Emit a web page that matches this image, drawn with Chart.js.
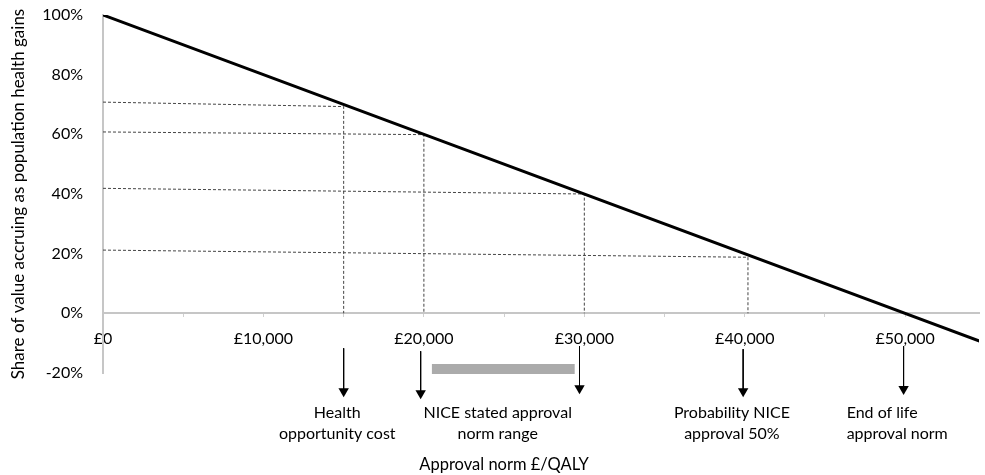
<!DOCTYPE html>
<html><head><meta charset="utf-8">
<script src="https://cdn.jsdelivr.net/npm/chart.js@4/dist/chart.umd.min.js"></script>
<style>html,body{margin:0;padding:0;background:#fff}#wrap{width:985px;height:475px}</style>
</head><body><div id="wrap"><canvas id="c" width="985" height="475"></canvas></div>
<script>
// Main relationship: share of value accruing as health gains vs approval norm
const normX = [0, 55000];
const shareY = [100, -10];
// Dashed guide lines (left end value, right end value, x where they drop to axis)
const guideX = [15000, 20000, 30000, 40200];
const guideLeftY = [70.8, 60.8, 41.9, 21.2];
const guideRightY = [69.3, 59.9, 40.0, 18.8];
// Arrows below the axis
const arrowX = [15000, 19800, 29700, 39900, 49900];
const arrowTopY = [-11.7, -12.7, -11.0, -12.0, -11.0];
const arrowEndY = [-26.1, -26.8, -25.1, -26.1, -25.4];
// NICE stated range bar
const rangeX = [20500, 29400];
const rangeY = [-18.7, -18.7];
// Annotations
const noteLines = [["Health", "opportunity cost"], ["NICE stated approval", "norm range"], ["Probability NICE", "approval 50%"], ["End of life", "approval norm"]];
const noteX = [14600, 24600, 39200, 46350];
const noteAlign = ["center", "center", "center", "left"];
const noteY = -33.2;
// Axes
const xTickValues = [0, 5000, 10000, 15000, 20000, 25000, 30000, 35000, 40000, 45000, 50000];
const xTickLabels = ["£0", "", "£10,000", "", "£20,000", "", "£30,000", "", "£40,000", "", "£50,000"];
const yTickValues = [-20, 0, 20, 40, 60, 80, 100];
const yTickLabels = ["-20%", "0%", "20%", "40%", "60%", "80%", "100%"];
const xTitle = "Approval norm £/QALY";
const xTitlePos = [25000, -50.7];
const yTitle = "Share of value accruing as population health gains";

const FONT = "Lato";

const datasets = [];
datasets.push({
  data: normX.map((v, i) => ({x: v, y: shareY[i]})),
  borderColor: "#000", borderWidth: 3, pointRadius: 0, clip: true
});
guideX.forEach((gx, i) => {
  datasets.push({
    data: [{x: 0, y: guideLeftY[i]}, {x: gx, y: guideRightY[i]}, {x: gx, y: 0}],
    borderColor: "#444", borderWidth: 1, borderDash: [3, 2], pointRadius: 0
  });
});
datasets.push({
  data: rangeX.map((v, i) => ({x: v, y: rangeY[i]})),
  borderColor: "#ababab", borderWidth: 10, borderCapStyle: "butt", pointRadius: 0, clip: false
});
const arrowStart = datasets.length;
arrowX.forEach((ax, i) => {
  datasets.push({
    data: [{x: ax, y: arrowTopY[i]}, {x: ax, y: arrowEndY[i]}],
    borderColor: "#000", borderWidth: 1, clip: false,
    pointStyle: "triangle", pointRotation: 180,
    pointRadius: [0, 6], pointBackgroundColor: "#000", pointBorderColor: "#000", pointBorderWidth: 0
  });
});

const notesPlugin = {
  id: "notes",
  afterDatasetsDraw(chart) {
    const {ctx, scales: {x, y}} = chart;
    // arrowheads lie outside the plot area; draw the library's point elements with a full-canvas area
    const full = {left: 0, top: 0, right: chart.width, bottom: chart.height};
    arrowX.forEach((ax, i) => {
      const meta = chart.getDatasetMeta(arrowStart + i);
      meta.data[1].draw(ctx, full);
    });
    ctx.save();
    ctx.fillStyle = "#000";
    ctx.font = "16px " + FONT;
    ctx.textBaseline = "middle";
    noteLines.forEach((lines, i) => {
      ctx.textAlign = noteAlign[i];
      const px = x.getPixelForValue(noteX[i]);
      const py = y.getPixelForValue(noteY);
      lines.forEach((t, j) => ctx.fillText(t, px, py + j * 21));
    });
    ctx.font = "16.5px " + FONT;
    ctx.textAlign = "center";
    ctx.fillText(xTitle, x.getPixelForValue(xTitlePos[0]), y.getPixelForValue(xTitlePos[1]));
    ctx.restore();
  }
};

new Chart(document.getElementById("c"), {
  type: "line",
  data: {datasets},
  plugins: [notesPlugin],
  options: {
    responsive: false, animation: false,
    layout: {padding: {top: 15, right: 0, bottom: 102, left: 0}},
    plugins: {legend: {display: false}, tooltip: {enabled: false}},
    scales: {
      x: {
        type: "linear", position: {y: 0}, min: 0, max: 54600,
        afterFit(s) { s.height = 0; },
        afterBuildTicks(s) { s.ticks = xTickValues.map(v => ({value: v})); },
        ticks: {
          autoSkip: false, maxRotation: 0, padding: 13, color: "#000",
          font: {family: FONT, size: 16},
          callback: (v) => { const k = xTickValues.indexOf(v); return k >= 0 ? xTickLabels[k] : ""; }
        },
        grid: {display: true, drawOnChartArea: false, drawTicks: true, tickLength: 3, color: "#d0d0d0"},
        border: {display: true, color: "#c6c6c6", width: 2}
      },
      y: {
        type: "linear", min: -20, max: 100,
        afterFit(s) { s.width = 103; },
        afterBuildTicks(s) { s.ticks = yTickValues.map(v => ({value: v})); },
        ticks: {
          padding: 2, color: "#000", font: {family: FONT, size: 16},
          callback: (v) => { const k = yTickValues.indexOf(v); return k >= 0 ? yTickLabels[k] : ""; }
        },
        grid: {display: true, drawOnChartArea: false, drawTicks: true, tickLength: 18, tickColor: "rgba(0,0,0,0)"},
        border: {display: true, color: "#c6c6c6", width: 2},
        title: {display: true, text: yTitle, color: "#000", font: {family: FONT, size: 17}, padding: {top: 8, bottom: 0}}
      }
    }
  }
});
</script></body></html>
